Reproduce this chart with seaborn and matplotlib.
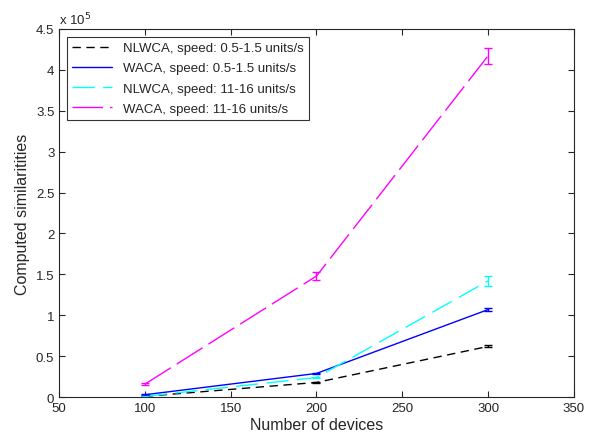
import matplotlib
matplotlib.use("Agg")
import matplotlib.pyplot as plt
import seaborn as sns
import pandas as pd
import numpy as np

devices = [100, 200, 300]
series_names = ["NLWCA, speed: 0.5-1.5 units/s", "WACA, speed: 0.5-1.5 units/s",
                "NLWCA, speed: 11-16 units/s", "WACA, speed: 11-16 units/s"]
nlwca_slow = [0.01e5, 0.18e5, 0.62e5]
waca_slow = [0.03e5, 0.29e5, 1.07e5]
nlwca_fast = [0.01e5, 0.24e5, 1.42e5]
waca_fast = [0.16e5, 1.48e5, 4.17e5]
err_nlwca_slow = [0.003e5, 0.008e5, 0.012e5]
err_waca_slow = [0.004e5, 0.01e5, 0.02e5]
err_nlwca_fast = [0.003e5, 0.01e5, 0.06e5]
err_waca_fast = [0.008e5, 0.05e5, 0.1e5]

values = [nlwca_slow, waca_slow, nlwca_fast, waca_fast]
errors = [err_nlwca_slow, err_waca_slow, err_nlwca_fast, err_waca_fast]
colors = ["black", "#0000FF", "#00FFFF", "#FF00FF"]
dashes = [(6, 4), "", (16, 6), (22, 5)]

sns.set_style("ticks")
plt.rcParams["font.family"] = ["Liberation Sans", "DejaVu Sans"]

rows = []
for name, vals in zip(series_names, values):
    for d, v in zip(devices, vals):
        rows.append({"devices": d, "sim": v, "series": name})
df = pd.DataFrame(rows)

fig = plt.figure(figsize=(6.04, 4.39), dpi=100)
ax = fig.add_axes([0.098, 0.093, 0.852, 0.839])

sns.lineplot(data=df, x="devices", y="sim", hue="series", style="series",
             palette=dict(zip(series_names, colors)),
             dashes=dict(zip(series_names, dashes)),
             hue_order=series_names, style_order=series_names,
             ax=ax, linewidth=1.0, errorbar=None)

for vals, errs, c in zip(values, errors, colors):
    ax.errorbar(devices, vals, yerr=errs, fmt="none", ecolor=c, elinewidth=1.0,
                capsize=3, capthick=1.0)

ax.set_xlim(50, 350)
ax.set_ylim(0, 4.5e5)
ax.set_xticks([50, 100, 150, 200, 250, 300, 350])
yt = np.arange(0, 4.51e5, 0.5e5)
ax.set_yticks(yt)
ax.set_yticklabels(["0", "0.5", "1", "1.5", "2", "2.5", "3", "3.5", "4", "4.5"])
ax.tick_params(direction="in", length=4, labelsize=9.5, top=True, right=True, width=0.8)
for s in ax.spines.values():
    s.set_visible(True)
    s.set_linewidth(0.8)
ax.set_xlabel("Number of devices", fontsize=11.5, labelpad=2)
ax.set_ylabel("Computed similaritities", fontsize=11.5, labelpad=4)
ax.text(0.0, 1.005, r"x 10$^{5}$", transform=ax.transAxes, fontsize=9.5,
        ha="left", va="bottom")

leg = ax.legend(loc="upper left", fontsize=9.5, frameon=True, fancybox=False,
                edgecolor="black", handlelength=3.0, borderaxespad=0.6,
                labelspacing=0.6)
leg.get_frame().set_linewidth(0.8)

fig.savefig("out.png", dpi=100)
